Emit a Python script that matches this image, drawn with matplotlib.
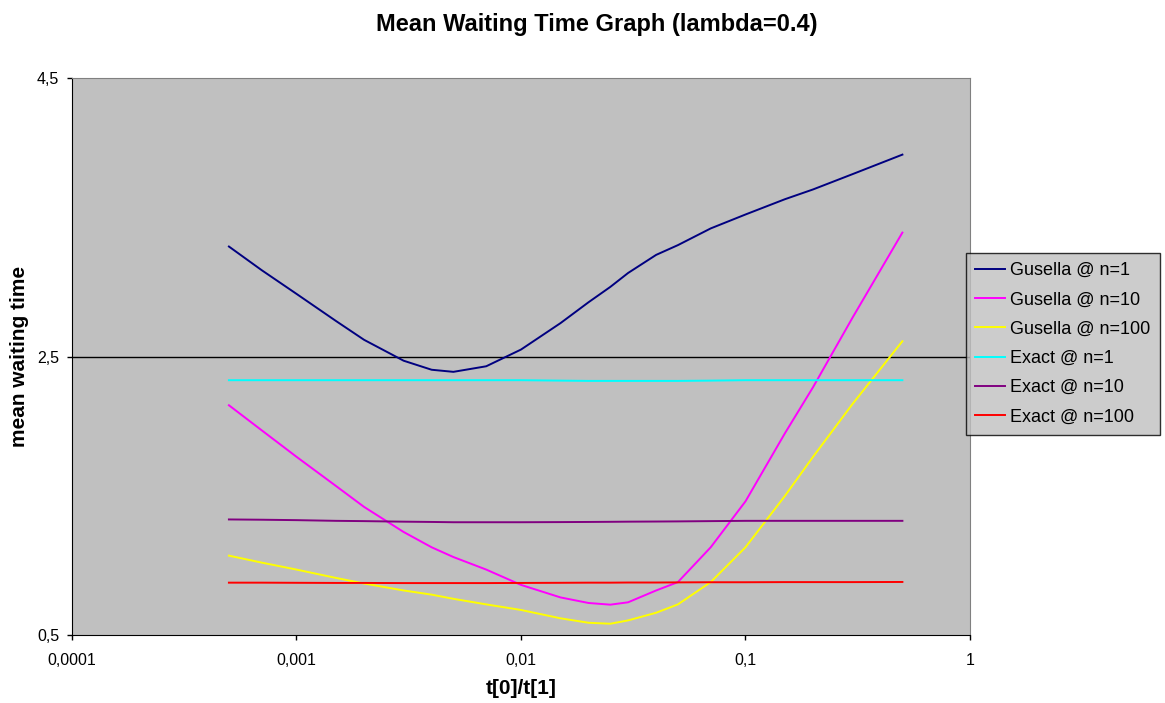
import matplotlib
matplotlib.use('Agg')
import matplotlib.pyplot as plt
from matplotlib.ticker import FixedLocator, FixedFormatter, NullLocator

plt.rcParams['font.family'] = ['Liberation Sans', 'DejaVu Sans']

# t[0]/t[1] ratios at which the waiting time was evaluated
ratio = [0.0005, 0.0007, 0.001, 0.0015, 0.002, 0.003, 0.004, 0.005, 0.007,
         0.01, 0.015, 0.02, 0.025, 0.03, 0.04, 0.05, 0.07, 0.1, 0.15, 0.2,
         0.3, 0.5]

gusella_n1 = [3.29, 3.12, 2.95, 2.755, 2.62, 2.47, 2.405, 2.39, 2.43,
              2.55, 2.74, 2.89, 3.00, 3.10, 3.23, 3.30, 3.42, 3.52, 3.63, 3.70,
              3.81, 3.95]
gusella_n10 = [2.15, 1.97, 1.78, 1.57, 1.42, 1.24, 1.13, 1.06, 0.97,
               0.86, 0.77, 0.73, 0.718, 0.735, 0.82, 0.88, 1.13, 1.46, 1.95, 2.28,
               2.78, 3.39]
gusella_n100 = [1.07, 1.02, 0.97, 0.91, 0.87, 0.82, 0.79, 0.76, 0.72,
                0.68, 0.62, 0.588, 0.581, 0.605, 0.66, 0.72, 0.88, 1.13, 1.50, 1.78,
                2.16, 2.61]
exact_n1 = [2.33, 2.33, 2.33, 2.33, 2.33, 2.33, 2.33, 2.33, 2.33,
            2.33, 2.327, 2.325, 2.325, 2.325, 2.325, 2.325, 2.327, 2.33, 2.33, 2.33,
            2.33, 2.33]
exact_n10 = [1.33, 1.328, 1.325, 1.32, 1.318, 1.314, 1.312, 1.31, 1.31,
             1.31, 1.311, 1.312, 1.313, 1.314, 1.315, 1.316, 1.318, 1.32, 1.32, 1.32,
             1.32, 1.32]
exact_n100 = [0.876, 0.876, 0.875, 0.874, 0.874, 0.873, 0.873, 0.873, 0.873,
              0.874, 0.875, 0.876, 0.876, 0.877, 0.877, 0.878, 0.879, 0.879, 0.88, 0.88,
              0.88, 0.881]

series = [
    ('Gusella @ n=1', gusella_n1, '#000080'),
    ('Gusella @ n=10', gusella_n10, '#ff00ff'),
    ('Gusella @ n=100', gusella_n100, '#ffff00'),
    ('Exact @ n=1', exact_n1, '#00ffff'),
    ('Exact @ n=10', exact_n10, '#800080'),
    ('Exact @ n=100', exact_n100, '#ff0000'),
]

x_ticks = [0.0001, 0.001, 0.01, 0.1, 1]
x_labels = ['0,0001', '0,001', '0,01', '0,1', '1']
y_ticks = [0.5, 2.5, 4.5]
y_labels = ['0,5', '2,5', '4,5']

fig = plt.figure(figsize=(11.65, 7.03), dpi=100)
ax = fig.add_axes([0.0618, 0.0967, 0.7708, 0.7923])
ax.set_facecolor('#c0c0c0')

for label, values, color in series:
    ax.plot(ratio, values, color=color, lw=1.4, label=label,
            solid_joinstyle='round')

ax.set_xscale('log')
ax.set_xlim(0.0001, 1)
ax.set_ylim(0.5, 4.5)
ax.xaxis.set_major_locator(FixedLocator(x_ticks))
ax.xaxis.set_major_formatter(FixedFormatter(x_labels))
ax.xaxis.set_minor_locator(NullLocator())
ax.yaxis.set_major_locator(FixedLocator(y_ticks))
ax.yaxis.set_major_formatter(FixedFormatter(y_labels))
ax.tick_params(direction='out', length=3.6, width=1, labelsize=11.5)
ax.tick_params(axis='x', pad=9)
ax.tick_params(axis='y', pad=5.5)

ax.axhline(2.5, color='black', lw=1, zorder=1)

for side in ['left', 'bottom']:
    ax.spines[side].set_color('black')
for side in ['top', 'right']:
    ax.spines[side].set_color('#808080')

# title and axis titles
fig.text(0.512, 0.956, 'Mean Waiting Time Graph (lambda=0.4)',
         ha='center', va='baseline', fontsize=17, fontweight='bold')
fig.text(0.447, 0.0213, 't[0]/t[1]', ha='center', va='center',
         fontsize=15, fontweight='bold')
fig.text(0.0165, 0.4936, 'mean waiting time', ha='center', va='center',
         rotation=90, fontsize=15, fontweight='bold')

leg = fig.legend(loc='upper left', bbox_to_anchor=(0.829, 0.640),
                 fontsize=13, frameon=True, fancybox=False,
                 handlelength=1.67, handletextpad=0.3, labelspacing=0.68,
                 borderpad=0.5, borderaxespad=0)
leg.get_frame().set_facecolor('#c0c0c0')
leg.get_frame().set_edgecolor('black')
leg.get_frame().set_linewidth(1)

fig.savefig('out.png', dpi=100)
